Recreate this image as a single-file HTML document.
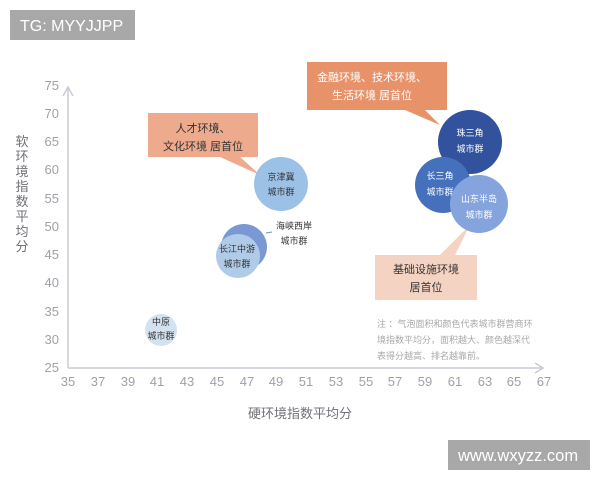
<!DOCTYPE html>
<html><head><meta charset="utf-8"><style>
html,body{margin:0;padding:0;background:#fff;width:600px;height:480px;overflow:hidden}
svg{display:block}
text{font-family:"Liberation Sans","Noto Sans CJK SC",sans-serif}
</style></head><body>
<svg width="600" height="480" viewBox="0 0 600 480" xmlns="http://www.w3.org/2000/svg">
<rect width="600" height="480" fill="#fff"/>
<rect x="10" y="10" width="125" height="30" fill="#a8a8a8"/>
<text x="20" y="31" font-size="16" fill="#fff">TG: MYYJJPP</text>
<rect x="448" y="440" width="142" height="30" fill="#a8a8a8"/>
<text x="458" y="461" font-size="16.5" fill="#fff">www.wxyzz.com</text>
<g stroke="#c8ccd4" stroke-width="1.5" fill="none">
<line x1="68" y1="368" x2="68" y2="88"/>
<polyline points="63,96 68,87 73,96"/>
<line x1="68" y1="368" x2="543" y2="368"/>
<polyline points="535,363 543,368 535,373"/>
</g>
<g font-size="13" fill="#a0a0a8" text-anchor="end">
<text x="59" y="90">75</text><text x="59" y="118">70</text><text x="59" y="146">65</text>
<text x="59" y="174">60</text><text x="59" y="203">55</text><text x="59" y="231">50</text>
<text x="59" y="259">45</text><text x="59" y="287">40</text><text x="59" y="316">35</text>
<text x="59" y="344">30</text><text x="59" y="372">25</text>
</g>
<g font-size="13" fill="#a0a0a8" text-anchor="middle">
<text x="68" y="386">35</text><text x="98" y="386">37</text><text x="128" y="386">39</text>
<text x="157" y="386">41</text><text x="187" y="386">43</text><text x="217" y="386">45</text>
<text x="247" y="386">47</text><text x="276" y="386">49</text><text x="306" y="386">51</text>
<text x="336" y="386">53</text><text x="366" y="386">55</text><text x="395" y="386">57</text>
<text x="425" y="386">59</text><text x="455" y="386">61</text><text x="485" y="386">63</text>
<text x="514" y="386">65</text><text x="544" y="386">67</text>
</g>
<text x="300" y="418" font-size="13" fill="#707078" text-anchor="middle">硬环境指数平均分</text>
<g font-size="13" fill="#707078" text-anchor="middle">
<text x="22" y="146">软</text><text x="22" y="161">环</text><text x="22" y="176">境</text>
<text x="22" y="191">指</text><text x="22" y="206">数</text><text x="22" y="221">平</text>
<text x="22" y="236">均</text><text x="22" y="251">分</text>
</g>
<polygon points="148,113 258,113 258,157 240,157 260,175 220,157 148,157" fill="#eeaa8c"/>
<text x="203" y="132" font-size="11" fill="#333" text-anchor="middle">人才环境、</text>
<text x="203" y="150" font-size="11" fill="#333" text-anchor="middle">文化环境 居首位</text>
<polygon points="307,62 447,62 447,110 425,110 440,125 405,110 307,110" fill="#e8926a"/>
<text x="372" y="81" font-size="11" fill="#fff" text-anchor="middle">金融环境、技术环境、</text>
<text x="372" y="99" font-size="11" fill="#fff" text-anchor="middle">生活环境 居首位</text>
<polygon points="375,255 440,255 470,225 455,255 477,255 477,300 375,300" fill="#f5d3c2"/>
<text x="426" y="273" font-size="11" fill="#333" text-anchor="middle">基础设施环境</text>
<text x="426" y="291" font-size="11" fill="#333" text-anchor="middle">居首位</text>
<circle cx="161" cy="330" r="16" fill="#d3e2ef"/>
<text x="161" y="325" font-size="9" fill="#333" text-anchor="middle">中原</text>
<text x="161" y="339" font-size="9" fill="#333" text-anchor="middle">城市群</text>
<circle cx="244" cy="247" r="23" fill="#7a98d4"/>
<circle cx="238" cy="256" r="22" fill="#afcbe8"/>
<text x="237" y="252" font-size="9" fill="#333" text-anchor="middle">长江中游</text>
<text x="237" y="267" font-size="9" fill="#333" text-anchor="middle">城市群</text>
<line x1="266" y1="233" x2="272" y2="232" stroke="#7090c0"/>
<text x="294" y="229" font-size="9" fill="#333" text-anchor="middle">海峡西岸</text>
<text x="294" y="244" font-size="9" fill="#333" text-anchor="middle">城市群</text>
<circle cx="281" cy="184" r="27" fill="#9cc1e7"/>
<text x="281" y="180" font-size="9" fill="#333" text-anchor="middle">京津冀</text>
<text x="281" y="195" font-size="9" fill="#333" text-anchor="middle">城市群</text>
<circle cx="470" cy="142" r="32" fill="#32529e"/>
<text x="470" y="136" font-size="9" fill="#fff" text-anchor="middle">珠三角</text>
<text x="470" y="152" font-size="9" fill="#fff" text-anchor="middle">城市群</text>
<circle cx="443" cy="185" r="28" fill="#4570bc"/>
<text x="440" y="179" font-size="9" fill="#fff" text-anchor="middle">长三角</text>
<text x="440" y="195" font-size="9" fill="#fff" text-anchor="middle">城市群</text>
<circle cx="479" cy="204" r="29" fill="#85a3dd"/>
<text x="479" y="202" font-size="9" fill="#fff" text-anchor="middle">山东半岛</text>
<text x="479" y="218" font-size="9" fill="#fff" text-anchor="middle">城市群</text>
<g font-size="9" fill="#a8a8a8">
<text x="377" y="327">注 ：气泡面积和颜色代表城市群营商环</text>
<text x="377" y="343">境指数平均分，面积越大、颜色越深代</text>
<text x="377" y="359">表得分越高、排名越靠前。</text>
</g>
</svg>
</body></html>
